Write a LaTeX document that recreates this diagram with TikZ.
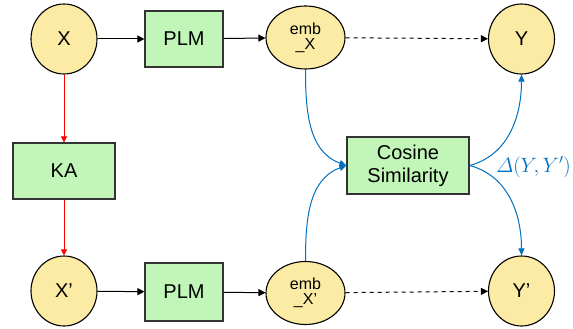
\documentclass[tikz,border=0pt]{standalone}
\usepackage{amsmath}
\usepackage{fontspec}
\setmainfont{Liberation Sans}
\usetikzlibrary{arrows.meta,shapes.geometric}
\definecolor{yel}{RGB}{252,235,165}
\definecolor{grn}{RGB}{194,245,184}
\definecolor{blu}{RGB}{0,112,192}
\begin{document}
\begin{tikzpicture}[x=1pt,y=-1pt,
  circ/.style={ellipse,draw=black,fill=yel,line width=1.1pt,minimum width=66pt,minimum height=70pt,inner sep=0pt,font=\fontsize{20}{22}\selectfont},
  emb/.style={ellipse,draw=black,fill=yel,line width=1.1pt,minimum width=79pt,minimum height=63pt,inner sep=0pt,align=center,font=\fontsize{16}{17}\selectfont},
  box/.style={rectangle,draw=black!80,fill=grn,line width=1.2pt,minimum width=78pt,minimum height=56pt,inner sep=0pt,align=center,font=\fontsize{20}{22}\selectfont},
  blkarr/.style={-{Triangle[length=7pt,width=7pt]},line width=1pt,black},
  dsharr/.style={-{Triangle[length=7pt,width=7pt]},line width=1pt,black,dash pattern=on 4pt off 4pt},
  redarr/.style={-{Triangle[length=6pt,width=6pt]},line width=0.9pt,draw=red},
  bluarr/.style={-{Triangle[length=7pt,width=6pt]},line width=1pt,draw=blu}]
\useasboundingbox (0,0) rectangle (573,329);
\node[circ] (x) at (64,39) {X};
\node[box] (plm1) at (184,39) {PLM};
\node[emb] (ex) at (305.5,37.5) {emb\\[-2pt]\_X};
\node[circ] (y) at (521.5,39) {Y};
\node[box,minimum width=102pt] (ka) at (64,171) {KA};
\node[circ] (xp) at (64,291) {X’};
\node[box,minimum height=58pt] (plm2) at (184,292) {PLM};
\node[emb] (exp) at (305.5,293) {emb\\[-2pt]\_X’};
\node[circ] (yp) at (521.5,291) {Y’};
\node[box,minimum width=122pt,minimum height=57pt] (cs) at (408,165.5) {Cosine\\[1pt]Similarity};
\node[text=blu,font=\fontsize{20}{22}\selectfont,anchor=east,inner sep=0pt] (d) at (571,167) {$\varDelta(Y,Y')$};
\draw[blkarr] (x) -- (plm1);
\draw[blkarr] (plm1) -- (ex);
\draw[dsharr] (ex) -- (y);
\draw[redarr] (x) -- (ka);
\draw[redarr] (ka) -- (xp);
\draw[blkarr] (xp) -- (plm2);
\draw[blkarr] (plm2) -- (exp);
\draw[dsharr] (exp) -- (yp);
\draw[bluarr] (ex.south) to[out=-90,in=160] (cs.west);
\draw[bluarr] (exp.north) to[out=90,in=-160] (cs.west);
\draw[bluarr] (cs.east) to[out=15,in=-90] (y.south);
\draw[bluarr] (cs.east) to[out=-15,in=90] (yp.north);
\end{tikzpicture}
\end{document}
